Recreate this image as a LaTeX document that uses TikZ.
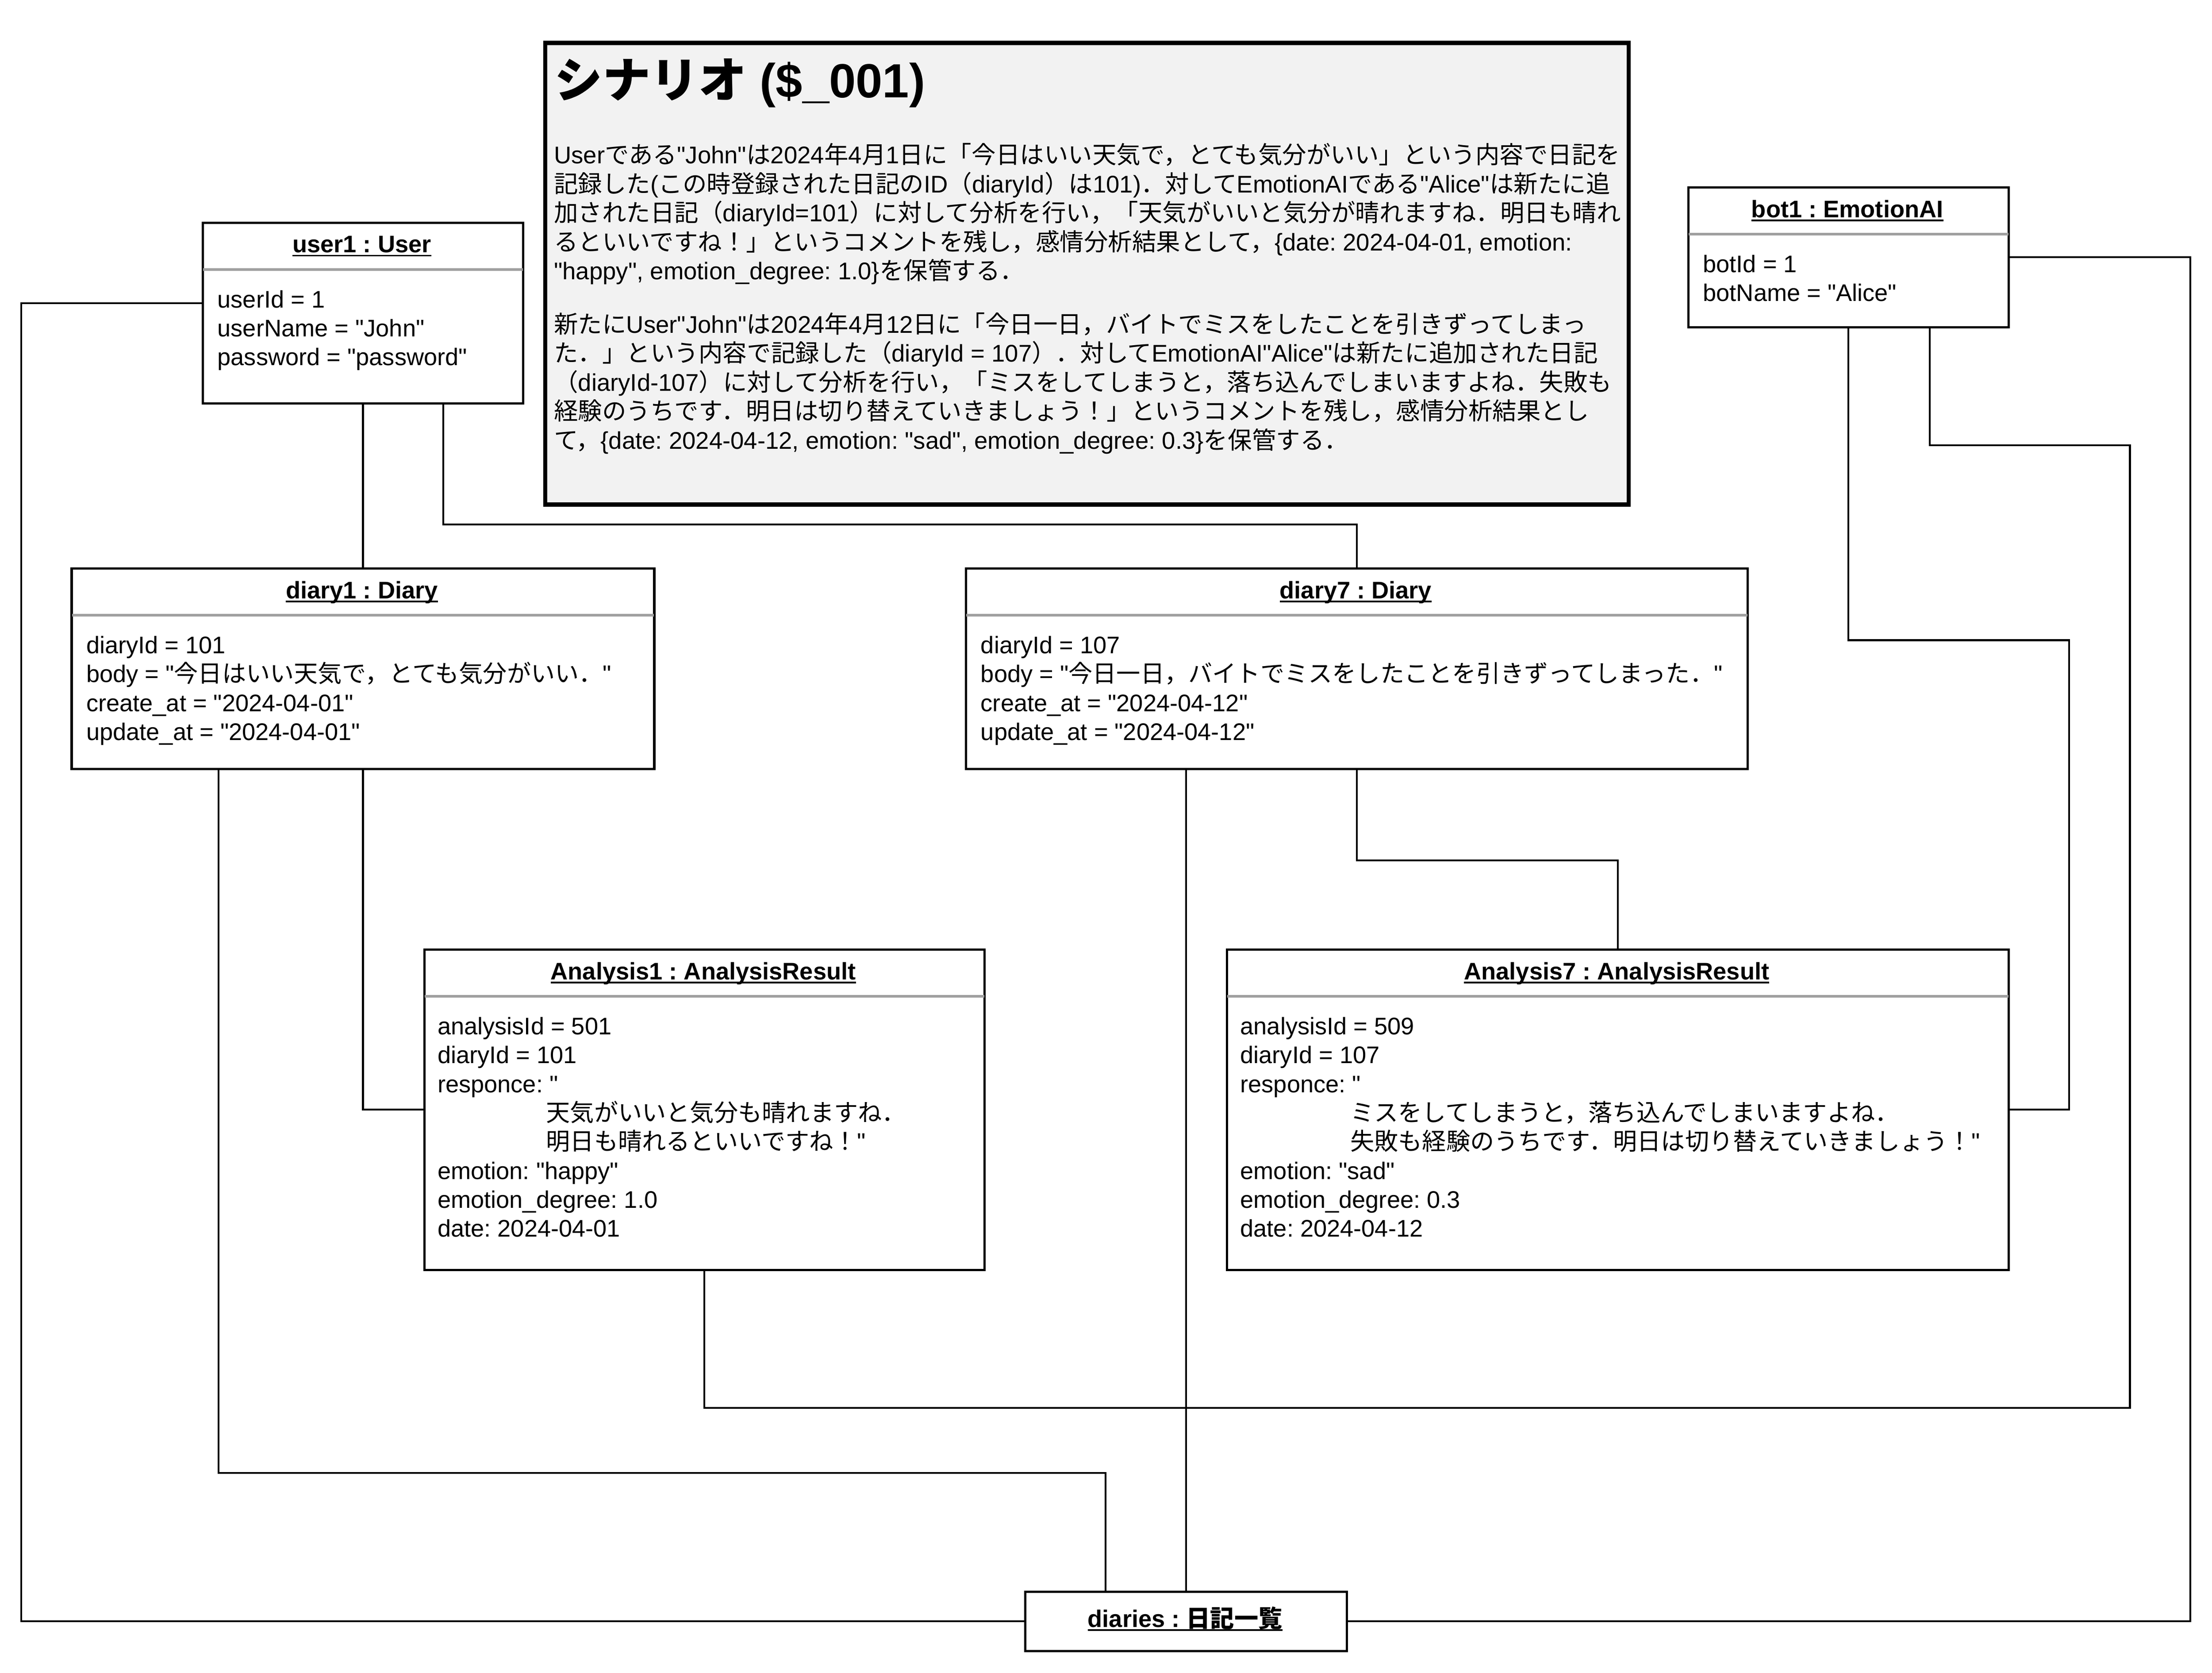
\documentclass[tikz,border=0pt]{standalone}
\usepackage{fontspec}
\setmainfont{Liberation Sans}
\newfontfamily\lfont{Liberation Sans}
\newfontfamily\jfont{Noto Sans CJK JP}
\XeTeXinterchartokenstate=1
\newXeTeXintercharclass\jcls
\makeatletter
\newcommand\setjrange[2]{\count@=#1\relax
  \loop\XeTeXcharclass\count@=\jcls\relax
  \ifnum\count@<#2\relax\advance\count@\@ne\repeat}
\makeatother
\setjrange{"3000}{"30FF}
\setjrange{"4E00}{"9FFF}
\setjrange{"FF00}{"FFEF}
\XeTeXinterchartoks 0 \jcls = {\jfont}
\XeTeXinterchartoks 4095 \jcls = {\jfont}
\XeTeXinterchartoks \jcls 0 = {\lfont}
\XeTeXinterchartoks \jcls 4095 = {\lfont}
\frenchspacing
\newbox\hdbox
\newcommand\hdul[1]{\setbox\hdbox=\hbox{#1}\rlap{\vrule height -1.5pt depth 2.7pt width \wd\hdbox}\box\hdbox}
\definecolor{scenfill}{RGB}{242,242,242}
\definecolor{sepgray}{RGB}{160,160,160}
\newcommand\tlines[5]{\foreach \myl [count=\i from 0] in {#5} {\node[#1] (#2-\i) at (#3,{#4+20.5*\i}) {\myl};}}
\tikzset{
  box/.style={draw, line width=1.6pt, fill=white, rectangle, inner sep=0pt, anchor=north west},
  scen/.style={draw, line width=3pt, fill=scenfill, rectangle, inner sep=0pt, anchor=north west},
  conn/.style={draw, line width=1.3pt},
  tx/.style={inner sep=0pt, anchor=base west, font=\lfont\fontsize{17}{20.5}\selectfont},
  stx/.style={inner sep=0pt, anchor=base west, font=\lfont\fontsize{17.1}{20.5}\selectfont},
  hd/.style={inner sep=0pt, anchor=base, font=\lfont\bfseries\fontsize{17}{20.5}\selectfont},
  ttl/.style={inner sep=0pt, anchor=base west, font=\lfont\bfseries\fontsize{34}{40}\selectfont},
  sepline/.style={draw=sepgray, line width=1.8pt},
}
\begin{document}
\begin{tikzpicture}[x=1pt, y=-1pt]
\fill[white] (0,0) rectangle (1568,1185.25);
\useasboundingbox (0,0) rectangle (1568,1185.25);

% scenario note
\node[scen, minimum width=768pt, minimum height=327pt] (scen) at (385,29) {};
\node[ttl] (title) at (393,69) {シナリオ (\$\_001)};
\tlines{stx}{p1}{392.5}{116}{
  {Userである"John"は2024年4月1日に「今日はいい天気で，とても気分がいい」という内容で日記を},
  {記録した(この時登録された日記のID（diaryId）は101)．対してEmotionAIである"Alice"は新たに追},
  {加された日記（diaryId=101）に対して分析を行い，「天気がいいと気分が晴れますね．明日も晴れ},
  {るといいですね！」というコメントを残し，感情分析結果として，\{date: 2024-04-01, emotion:},
  {"happy", emotion\_degree: 1.0\}を保管する．}}
\tlines{stx}{p2}{392.5}{236}{
  {新たにUser"John"は2024年4月12日に「今日一日，バイトでミスをしたことを引きずってしまっ},
  {た．」という内容で記録した（diaryId = 107）．対してEmotionAI"Alice"は新たに追加された日記},
  {（diaryId-107）に対して分析を行い，「ミスをしてしまうと，落ち込んでしまいますよね．失敗も},
  {経験のうちです．明日は切り替えていきましょう！」というコメントを残し，感情分析結果とし},
  {て，\{date: 2024-04-12, emotion: "sad", emotion\_degree: 0.3\}を保管する．}}

% object boxes
\node[box, minimum width=227pt, minimum height=128pt] (user1) at (143,157) {};
\node[box, minimum width=227pt, minimum height=99pt] (bot1) at (1196,132) {};
\node[box, minimum width=413pt, minimum height=142pt] (diary1) at (50,402) {};
\node[box, minimum width=554pt, minimum height=142pt] (diary7) at (684,402) {};
\node[box, minimum width=397pt, minimum height=227pt] (an1) at (300,672) {};
\node[box, minimum width=554pt, minimum height=227pt] (an7) at (869,672) {};
\node[box, minimum width=228pt, minimum height=42pt] (diaries) at (726,1127) {};

% separators
\foreach \b in {user1,bot1,diary1,diary7,an1,an7}{
  \draw[sepline] ([xshift=1pt,yshift=-34pt]\b.north west) -- ([xshift=-1pt,yshift=-34pt]\b.north east);
}

% headers
\node[hd] (user1-h) at (256.5,179) {\hdul{user1 : User}};
\node[hd] (bot1-h) at (1309.5,154) {\hdul{bot1 : EmotionAI}};
\node[hd] (diary1-h) at (256.5,424) {\hdul{diary1 : Diary}};
\node[hd] (diary7-h) at (961,424) {\hdul{diary7 : Diary}};
\node[hd] (an1-h) at (498.5,694) {\hdul{Analysis1 : AnalysisResult}};
\node[hd] (an7-h) at (1146,694) {\hdul{Analysis7 : AnalysisResult}};
\node[hd] (diaries-h) at (840,1153) {\hdul{diaries : 日記一覧}};

% attributes
\tlines{tx}{user1-a}{154}{218}{{userId = 1},{userName = "John"},{password = "password"}}
\tlines{tx}{bot1-a}{1207}{193}{{botId = 1},{botName = "Alice"}}
\tlines{tx}{diary1-a}{61}{463}{{diaryId = 101},{body = "今日はいい天気で，とても気分がいい．"},{create\_at = "2024-04-01"},{update\_at = "2024-04-01"}}
\tlines{tx}{diary7-a}{695}{463}{{diaryId = 107},{body = "今日一日，バイトでミスをしたことを引きずってしまった．"},{create\_at = "2024-04-12"},{update\_at = "2024-04-12"}}
\tlines{tx}{an1-a}{310}{733}{{analysisId = 501},{diaryId = 101},{responce: "}}
\tlines{tx}{an1-r}{387}{794.5}{{天気がいいと気分も晴れますね．},{明日も晴れるといいですね！"}}
\tlines{tx}{an1-b}{310}{835.5}{{emotion: "happy"},{emotion\_degree: 1.0},{date: 2024-04-01}}
\tlines{tx}{an7-a}{879}{733}{{analysisId = 509},{diaryId = 107},{responce: "}}
\tlines{tx}{an7-r}{957}{794.5}{{ミスをしてしまうと，落ち込んでしまいますよね．},{失敗も経験のうちです．明日は切り替えていきましょう！"}}
\tlines{tx}{an7-b}{879}{835.5}{{emotion: "sad"},{emotion\_degree: 0.3},{date: 2024-04-12}}

% connectors
\draw[conn] (user1.south) -- (diary1.north);
\draw[conn] ([xshift=57pt]user1.south) -- ++(0,85) -| (diary7.north);
\draw[conn] ([yshift=7pt]user1.west) -- ++(-128,0) |- (diaries.west);
\draw[conn] (diary1.south) |- (an1.west);
\draw[conn] ([xshift=-102.5pt]diary1.south) -- ++(0,498) -| ([xshift=-57pt]diaries.north);
\draw[conn] (diary7.south) -- ++(0,64) -| (an7.north);
\draw[conn] (diary7.south -| diaries.north) -- (diaries.north);
\draw[conn] (bot1.south) -- ++(0,221) -- ++(156.5,0) |- (an7.east);
\draw[conn] ([xshift=57.5pt]bot1.south) -- ++(0,83) -- ++(142,0) |- ([yshift=-97pt]an1.south) -- (an1.south);
\draw[conn] (bot1.east) -- ++(128,0) |- (diaries.east);
\end{tikzpicture}
\end{document}
